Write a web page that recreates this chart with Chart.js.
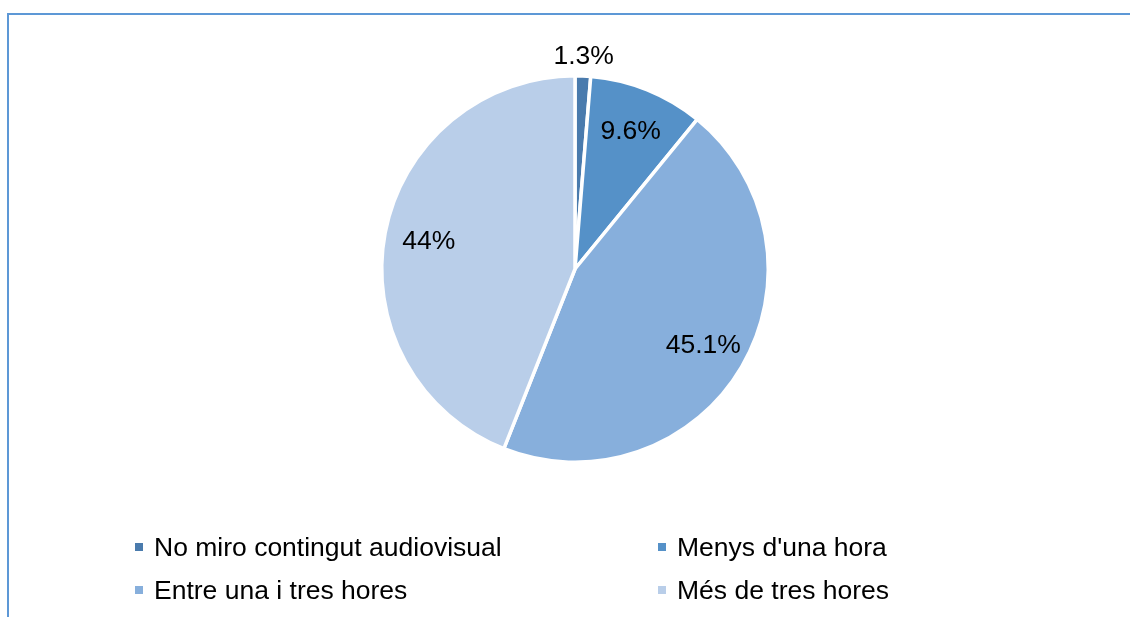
<!DOCTYPE html>
<html>
<head>
<meta charset="utf-8">
<script src="https://cdn.jsdelivr.net/npm/chart.js@4.4.1/dist/chart.umd.min.js"></script>
<style>
  html, body { margin: 0; padding: 0; background: #fff; }
  #wrap { position: relative; width: 1130px; height: 617px; overflow: hidden; font-family: "Liberation Sans", Arial, sans-serif; }
  #frame { position: absolute; left: 7px; top: 13px; width: 1130px; height: 700px; border-top: 2px solid #5d98d6; border-left: 2px solid #5d98d6; box-sizing: border-box; }
  canvas { position: absolute; left: 0; top: 0; }
  .leg { position: absolute; font-size: 26.5px; color: #000; white-space: nowrap; line-height: 30px; }
  .leg span.box { position: absolute; width: 8px; height: 8px; top: 11px; }
</style>
</head>
<body>
<div id="wrap">
  <div id="frame"></div>
  <canvas id="pie" width="1130" height="617"></canvas>
</div>
<script>
const categories = ['No miro contingut audiovisual', "Menys d'una hora", 'Entre una i tres hores', 'Més de tres hores'];
const shares = [1.3, 9.6, 45.1, 44];
const pctLabels = ['1.3%', '9.6%', '45.1%', '44%'];
const colours = ['#4a7bad', '#5591c8', '#87afdc', '#b9cee9'];

// data labels, Excel style: small slice outside, the rest inside
const sliceLabels = {
  id: 'sliceLabels',
  afterDatasetsDraw(chart) {
    const ctx = chart.ctx;
    const arcs = chart.getDatasetMeta(0).data;
    ctx.save();
    ctx.font = '26.5px "Liberation Sans", Arial, sans-serif';
    ctx.fillStyle = '#000';
    ctx.textAlign = 'center';
    ctx.textBaseline = 'middle';
    arcs.forEach((arc, i) => {
      const mid = (arc.startAngle + arc.endAngle) / 2;
      const r = shares[i] < 5 ? arc.outerRadius + 20 : arc.outerRadius * 0.77;
      ctx.fillText(pctLabels[i], arc.x + Math.cos(mid) * r, arc.y + Math.sin(mid) * r + 1);
    });
    ctx.restore();
  }
};

new Chart(document.getElementById('pie').getContext('2d'), {
  type: 'pie',
  data: {
    labels: categories,
    datasets: [{
      data: shares,
      backgroundColor: colours,
      borderColor: '#ffffff',
      borderWidth: 3.5
    }]
  },
  options: {
    responsive: false,
    animation: false,
    layout: { padding: { top: 74, bottom: 153, left: 20, right: 0 } },
    plugins: {
      legend: { display: false },
      tooltip: { enabled: false }
    }
  },
  plugins: [sliceLabels]
});

// two column legend underneath
const wrap = document.getElementById('wrap');
const legX = [154, 677];
const legY = [532, 575];
categories.forEach((name, i) => {
  const el = document.createElement('div');
  el.className = 'leg';
  el.style.left = legX[i % 2] + 'px';
  el.style.top = legY[Math.floor(i / 2)] + 'px';
  el.textContent = name;
  const box = document.createElement('span');
  box.className = 'box';
  box.style.left = '-19px';
  box.style.background = colours[i];
  el.appendChild(box);
  wrap.appendChild(el);
});
</script>
</body>
</html>
